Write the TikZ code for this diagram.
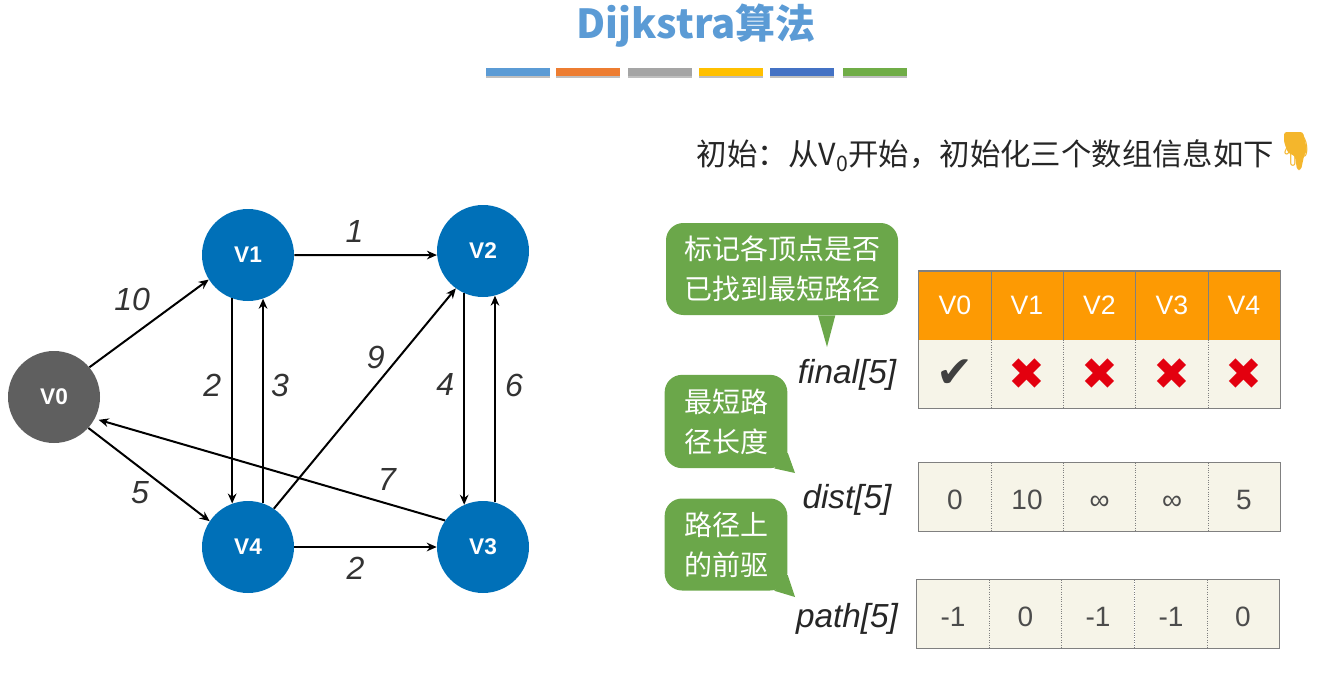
\documentclass[tikz,border=0pt]{standalone}
\usepackage{fontspec}
\usepackage{tikz}
\usetikzlibrary{arrows.meta,shadows}
\setmainfont{Liberation Sans}
\newfontfamily\cjk{Noto Sans CJK SC}
\newfontfamily\symb{DejaVu Sans}
\newfontfamily\emoji{Noto Emoji}
\definecolor{vblue}{HTML}{0070B8}
\definecolor{vgray}{HTML}{5F5F5F}
\definecolor{bubblegreen}{HTML}{6BA74A}
\definecolor{headorange}{HTML}{FD9A03}
\definecolor{cream}{HTML}{F6F4E8}
\definecolor{framegray}{HTML}{808080}
\definecolor{crossred}{HTML}{E3000F}
\definecolor{titleblue}{HTML}{5B9BD5}
\definecolor{barorange}{HTML}{ED7D31}
\definecolor{bargray}{HTML}{A5A5A5}
\definecolor{baryellow}{HTML}{FFC000}
\definecolor{barblue}{HTML}{4472C4}
\definecolor{bargreen}{HTML}{70AD47}
\definecolor{handgold}{HTML}{F4B62C}
\tikzset{
    colorbar/.style={minimum width=48.5pt,minimum height=6pt,inner sep=0pt,
        drop shadow={shadow xshift=0pt,shadow yshift=-1.5pt,fill=gray,opacity=.5}},
    vertex/.style={circle,minimum size=69pt,inner sep=0pt,text=white,
        font=\fontsize{17}{20}\selectfont\bfseries},
    weight/.style={font=\fontsize{24}{26}\selectfont\itshape,text=black!80,inner sep=0pt},
    headcell/.style={minimum width=54.2pt,minimum height=51.5pt,inner sep=0pt,fill=headorange,
        text=white,font=\fontsize{20}{24}\selectfont},
    bodycell/.style={minimum width=54.2pt,minimum height=51pt,inner sep=0pt,fill=cream,
        text=black!70,font=\fontsize{21}{24}\selectfont},
    arrayname/.style={font=\fontsize{25}{28}\selectfont\itshape,text=black!85,inner sep=0pt},
    bubble/.style={rounded corners=13pt,fill=bubblegreen,text=white,inner sep=0pt,align=center,
        font=\cjk\fontsize{21}{30}\selectfont},
    rowframe/.style={draw=framegray,line width=1pt},
    celldiv/.style={draw=framegray,densely dotted,line width=.8pt}
}

\begin{document}
\begin{tikzpicture}[x=.75pt,y=-.75pt]
\useasboundingbox (0,0) rectangle (1323,674);

% title and the coloured bars
\node[text=titleblue,font=\cjk\fontsize{30}{34}\selectfont\bfseries] (Title) at (696,26) {Dijkstra算法};
\node[colorbar,fill=titleblue] (BarA) at (518,72) {};
\node[colorbar,fill=barorange] (BarB) at (588,72) {};
\node[colorbar,fill=bargray] (BarC) at (660,72) {};
\node[colorbar,fill=baryellow] (BarD) at (731,72) {};
\node[colorbar,fill=barblue] (BarE) at (802,72) {};
\node[colorbar,fill=bargreen] (BarF) at (875,72) {};

\node[font=\cjk\fontsize{22.8}{26}\selectfont,text=black!85] (Intro) at (985.5,156) {初始：从V\textsubscript{0}开始，初始化三个数组信息如下};
\fill[handgold,rounded corners=2pt] (1284,132) -- (1303,132) -- (1307,150) -- (1304,156)
    -- (1301,170) -- (1297,170) -- (1295,156) -- (1288,153) -- (1284,142) -- cycle;
\node[font=\emoji\fontsize{22}{30}\selectfont,text=handgold,inner sep=0pt] (Hand) at (1296,151) {\scalebox{-1}[1]{👇}};

% the graph
\begin{scope}[every node/.style={vertex,fill=vblue}]
    \node[fill=vgray] (V0) at (54,397) {V0};
    \node (V1) at (248,255) {V1};
    \node (V2) at (483,251) {V2};
    \node (V3) at (483,547) {V3};
    \node (V4) at (248,547) {V4};
\end{scope}

\begin{scope}[>={Stealth[black,length=7.5pt,width=6.5pt]},
              every node/.style={weight},
              every edge/.style={draw=black,line width=1.5pt}]
    \path [->] (V0.40) edge node[shift={(-17,-24)}] (W01) {10} (V1.212);
    \path [->] (V0.-42) edge node[shift={(-9,18)}] (W04) {5} (V4.146);
    \path [->] (V1.0) edge node[shift={(-11,-24)}] (W12) {1} (V2.185);
    \path [->] (V1.-110) edge node[shift={(-20,-16)}] (W14) {2} (V4.110);
    \path [->] (V4.71) edge node[shift={(17,-16)}] (W41) {3} (V1.-71);
    \path [->] (V2.-114) edge node[shift={(-19,-15)}] (W23) {4} (V3.114);
    \path [->] (V3.75) edge node[shift={(19,-14)}] (W32) {6} (V2.-75);
    \path [->] (V4.56) edge node[shift={(11,-41)}] (W42) {9} (V2.-126);
    \path [->,shorten >=3pt] (V3.145) edge node[shift={(117,10)}] (W30) {7} (V0.-28);
    \path [->] (V4.0) edge node[shift={(-10,21)}] (W43) {2} (V3.180);
\end{scope}

% final[5]
\begin{scope}[every node/.style={headcell}]
    \node (HeadA) at (955,305.5) {V0};
    \node (HeadB) at (1027,305.5) {V1};
    \node (HeadC) at (1099.5,305.5) {V2};
    \node (HeadD) at (1172,305.5) {V3};
    \node (HeadE) at (1244,305.5) {V4};
\end{scope}
\begin{scope}[every node/.style={bodycell,font=\symb\fontsize{33}{36}\selectfont,text=crossred}]
    \node[text=black!75] (FinalA) at (955,374) {✔};
    \node (FinalB) at (1027,374) {✖};
    \node (FinalC) at (1099.5,374) {✖};
    \node (FinalD) at (1172,374) {✖};
    \node (FinalE) at (1244,374) {✖};
\end{scope}
\draw[rowframe] (HeadA.north west) rectangle (FinalE.south east);
\draw[framegray,line width=.8pt] (HeadA.north east) -- (HeadA.south east);
\draw[framegray,line width=.8pt] (HeadB.north east) -- (HeadB.south east);
\draw[framegray,line width=.8pt] (HeadC.north east) -- (HeadC.south east);
\draw[framegray,line width=.8pt] (HeadD.north east) -- (HeadD.south east);
\draw[celldiv] (FinalA.north east) -- (FinalA.south east);
\draw[celldiv] (FinalB.north east) -- (FinalB.south east);
\draw[celldiv] (FinalC.north east) -- (FinalC.south east);
\draw[celldiv] (FinalD.north east) -- (FinalD.south east);

% dist[5]
\begin{scope}[every node/.style={bodycell,text height=18pt,text depth=0pt}]
    \node (DistA) at (955,497) {0};
    \node (DistB) at (1027,497) {10};
    \node (DistC) at (1099.5,497) {∞};
    \node (DistD) at (1172,497) {∞};
    \node (DistE) at (1244,497) {5};
\end{scope}
\draw[rowframe] (DistA.north west) rectangle (DistE.south east);
\draw[celldiv] (DistA.north east) -- (DistA.south east);
\draw[celldiv] (DistB.north east) -- (DistB.south east);
\draw[celldiv] (DistC.north east) -- (DistC.south east);
\draw[celldiv] (DistD.north east) -- (DistD.south east);

% path[5]
\begin{scope}[every node/.style={bodycell,text height=18pt,text depth=0pt}]
    \node (PathA) at (953,614) {-1};
    \node (PathB) at (1025.5,614) {0};
    \node (PathC) at (1098,614) {-1};
    \node (PathD) at (1171,614) {-1};
    \node (PathE) at (1243,614) {0};
\end{scope}
\draw[rowframe] (PathA.north west) rectangle (PathE.south east);
\draw[celldiv] (PathA.north east) -- (PathA.south east);
\draw[celldiv] (PathB.north east) -- (PathB.south east);
\draw[celldiv] (PathC.north east) -- (PathC.south east);
\draw[celldiv] (PathD.north east) -- (PathD.south east);

\node[arrayname] (Final) at (847,375) {final[5]};
\node[arrayname] (Dist) at (847,500) {dist[5]};
\node[arrayname] (Path) at (847,619) {path[5]};

% speech bubbles
\node[bubble,minimum width=174pt,minimum height=69pt] (MarkNote) at (782,269) {标记各顶点是否\\已找到最短路径};
\node[bubble,minimum width=92pt,minimum height=70pt] (DistNote) at (726,421.5) {最短路\\径长度};
\node[bubble,minimum width=92pt,minimum height=69pt] (PathNote) at (726,544.5) {路径上\\的前驱};
\coordinate (MarkTip) at (827,347);
\coordinate (DistTip) at (795,473);
\coordinate (PathTip) at (795,597);
\fill[bubblegreen] ([xshift=27pt]MarkNote.south) -- (MarkTip) -- ([xshift=40pt]MarkNote.south) -- cycle;
\fill[bubblegreen] ([xshift=-10pt]DistNote.south east) -- (DistTip) -- ([yshift=12pt]DistNote.south east) -- cycle;
\fill[bubblegreen] ([xshift=-10pt]PathNote.south east) -- (PathTip) -- ([yshift=12pt]PathNote.south east) -- cycle;
\end{tikzpicture}
\end{document}
